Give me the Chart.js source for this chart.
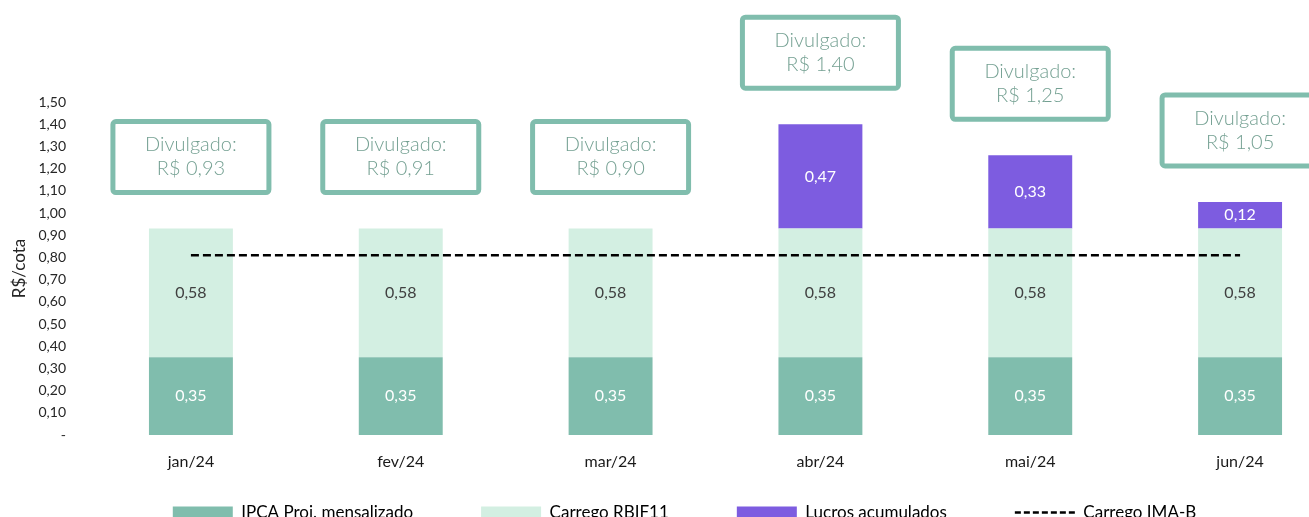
<!DOCTYPE html>
<html>
<head>
<meta charset="utf-8">
<script src="https://cdn.jsdelivr.net/npm/chart.js@4"></script>
<style>
  body { margin: 0; overflow: hidden; background: #fff; }
  #wrap { width: 1405px; height: 530px; overflow: hidden; }
</style>
</head>
<body>
<div id="wrap"><canvas id="barChart" width="1405" height="570"></canvas></div>
<script>
const categories = ["jan/24", "fev/24", "mar/24", "abr/24", "mai/24", "jun/24"];
const ipcaProj = [0.35, 0.35, 0.35, 0.35, 0.35, 0.35];
const carregoRbif = [0.58, 0.58, 0.58, 0.58, 0.58, 0.58];
const lucrosAcum = [0, 0, 0, 0.47, 0.33, 0.12];
const carregoImaB = [0.81, 0.81, 0.81, 0.81, 0.81, 0.81];
const divulgado = [0.93, 0.91, 0.90, 1.40, 1.25, 1.05];
const seriesNames = ["IPCA Proj. mensalizado", "Carrego RBIF11", "Lucros acumulados", "Carrego IMA-B"];

const GREEN = "#80bdad";
const LIGHT = "#d3efe2";
const PURPLE = "#7d5ce0";
const FONT = "Lato, 'Open Sans', sans-serif";

const fmt = v => v.toFixed(2).replace(".", ",");

// numbers inside the bar segments
const barLabels = {
  id: "barLabels",
  afterDatasetsDraw(chart) {
    const ctx = chart.ctx;
    const colors = ["#ffffff", "#404040", "#ffffff"];
    ctx.save();
    ctx.font = "16px " + FONT;
    ctx.textAlign = "center";
    ctx.textBaseline = "middle";
    [0, 1, 2].forEach(di => {
      const meta = chart.getDatasetMeta(di);
      meta.data.forEach((bar, i) => {
        const v = chart.data.datasets[di].data[i];
        if (!v) return;
        ctx.fillStyle = colors[di];
        ctx.fillText(fmt(v), bar.x, (bar.y + bar.base) / 2);
      });
    });
    ctx.restore();
  }
};

// "Divulgado" boxes above each column
const divulgadoBoxes = {
  id: "divulgadoBoxes",
  afterDatasetsDraw(chart) {
    const ctx = chart.ctx;
    const x = chart.scales.x, y = chart.scales.y;
    const w = 156, h = 71, gap = 36;
    ctx.save();
    divulgado.forEach((val, i) => {
      const total = ipcaProj[i] + carregoRbif[i] + lucrosAcum[i];
      const cx = x.getPixelForValue(i);
      const bottom = y.getPixelForValue(total) - gap;
      const top = bottom - h;
      ctx.beginPath();
      ctx.roundRect(cx - w / 2, top, w, h, 3);
      ctx.fillStyle = "#fff";
      ctx.fill();
      ctx.lineWidth = 5;
      ctx.strokeStyle = GREEN;
      ctx.stroke();
      ctx.fillStyle = "#74a092";
      ctx.font = "300 20px " + FONT;
      ctx.textAlign = "center";
      ctx.textBaseline = "middle";
      ctx.fillText("Divulgado:", cx, top + h / 2 - 12);
      ctx.fillText("R$ " + fmt(val), cx, top + h / 2 + 12);
    });
    ctx.restore();
  }
};

// pull the legend row up close under the month labels
const legendRow = {
  id: "legendRow",
  beforeDraw(chart) {
    chart.legend.top = chart.chartArea.bottom + 1;
    chart.legend.left += 12;
    chart.legend.right += 12;
  }
};

new Chart(document.getElementById("barChart"), {
  data: {
    labels: categories,
    datasets: [
      { type: "bar", label: seriesNames[0], data: ipcaProj, backgroundColor: GREEN, stack: "s", barPercentage: 0.4, categoryPercentage: 1 },
      { type: "bar", label: seriesNames[1], data: carregoRbif, backgroundColor: LIGHT, stack: "s", barPercentage: 0.4, categoryPercentage: 1 },
      { type: "bar", label: seriesNames[2], data: lucrosAcum, backgroundColor: PURPLE, stack: "s", barPercentage: 0.4, categoryPercentage: 1 },
      { type: "line", label: seriesNames[3], data: carregoImaB, borderColor: "#000", borderWidth: 2.5, borderDash: [8, 4],
        pointRadius: 0, fill: false, stack: "line", order: -1 }
    ]
  },
  options: {
    responsive: false,
    animation: false,
    layout: { padding: { top: 102, bottom: 0, left: 0, right: 60 } },
    plugins: {
      tooltip: { enabled: false },
      legend: {
        position: "bottom",
        labels: {
          font: { family: FONT, size: 17 },
          color: "#262626",
          usePointStyle: true,
          pointStyleWidth: 60,
          boxHeight: 12,
          padding: 68,
          generateLabels() {
            return seriesNames.map((name, i) => ({
              text: name,
              fillStyle: [GREEN, LIGHT, PURPLE, "#000"][i],
              strokeStyle: i === 3 ? "#000" : "rgba(0,0,0,0)",
              lineWidth: i === 3 ? 2.5 : 0,
              lineDash: i === 3 ? [6, 3] : [],
              pointStyle: i === 3 ? "line" : "rect",
              datasetIndex: i,
              hidden: false
            }));
          }
        }
      }
    },
    scales: {
      x: {
        stacked: true,
        grid: { display: false },
        border: { display: false },
        ticks: { font: { family: FONT, size: 16 }, color: "#1a1a1a", padding: 9 },
        afterFit(scale) { scale.height = 40; }
      },
      y: {
        stacked: true,
        min: 0,
        max: 1.5,
        grid: { display: false },
        border: { display: false },
        ticks: {
          stepSize: 0.1,
          font: { family: FONT, size: 14 },
          color: "#262626",
          padding: 12,
          callback: v => Math.abs(v) < 1e-9 ? "-" : fmt(v)
        },
        title: { display: true, text: "R$/cota", font: { family: FONT, size: 17 }, color: "#262626", padding: { top: 9, bottom: 0 } },
        afterFit(scale) { scale.width = 86; }
      }
    }
  },
  plugins: [barLabels, divulgadoBoxes, legendRow]
});
</script>
</body>
</html>
